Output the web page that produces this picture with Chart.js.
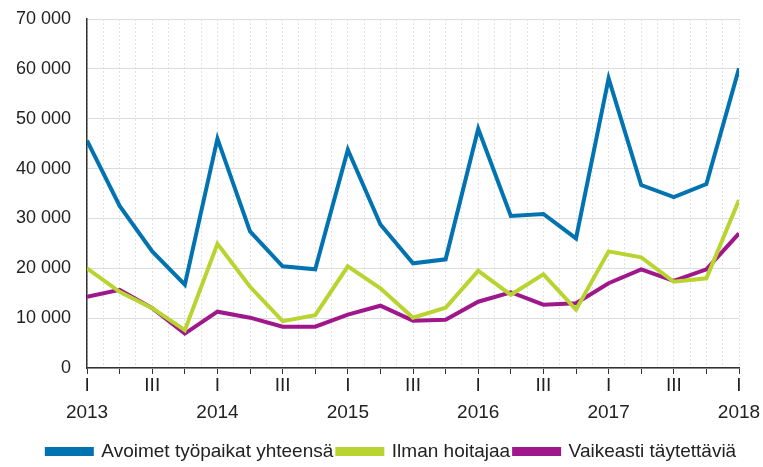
<!DOCTYPE html>
<html>
<head>
<meta charset="utf-8">
<script src="https://cdn.jsdelivr.net/npm/chart.js@4/dist/chart.umd.min.js"></script>
<style>
    html, body { margin: 0; padding: 0; background: #fff; }
    #wrap { width: 763px; height: 467px; }
</style>
</head>
<body>
<div id="wrap"><canvas id="chart"></canvas></div>
<script>
// Neljännekset 2013 I - 2018 I
const years = [2013, 2014, 2015, 2016, 2017, 2018];
const quarterNames = ['I', '', 'III', ''];

const avoimet = [45600, 32500, 23400, 16700, 46000, 27400, 20400, 19800, 43800, 28800,
    21000, 21800, 48000, 30500, 30900, 26000, 58100, 36700, 34300, 36900, 60100];
const ilmanHoitajaa = [20000, 15300, 12000, 7600, 24900, 16300, 9400, 10600, 20400, 16000,
    10100, 12100, 19500, 14700, 18800, 11700, 23400, 22200, 17300, 18000, 33700];
const vaikeasti = [14300, 15700, 12000, 6900, 11300, 10100, 8300, 8300, 10700, 12500,
    9500, 9700, 13300, 15200, 12700, 13000, 17000, 19800, 17500, 19800, 27000];

Chart.defaults.font.family = '"Liberation Sans", Arial, sans-serif';
Chart.defaults.font.size = 19;
Chart.defaults.color = '#222';

function toPoints(arr) {
    return arr.map(function (v, i) { return { x: i, y: v }; });
}

function number_format(n) {
    return String(n).replace(/\B(?=(\d{3})+(?!\d))/g, ' ');
}

// selite hieman oikealle ja alemmas kuten mallissa
const legendShift = {
    id: 'legendShift',
    afterLayout: function (chart) {
        chart.legend.left += 10;
        chart.legend.right += 10;
        chart.legend.top += 4;
        chart.legend.bottom += 4;
    }
};

const ctx = document.getElementById('chart').getContext('2d');
new Chart(ctx, {
    type: 'line',
    data: {
        datasets: [{
            label: 'Avoimet työpaikat yhteensä',
            data: toPoints(avoimet),
            borderColor: '#0073b0',
            backgroundColor: '#0073b0'
        }, {
            label: 'Ilman hoitajaa',
            data: toPoints(ilmanHoitajaa),
            borderColor: '#b9d431',
            backgroundColor: '#b9d431'
        }, {
            label: 'Vaikeasti täytettäviä',
            data: toPoints(vaikeasti),
            borderColor: '#a0178c',
            backgroundColor: '#a0178c'
        }]
    },
    plugins: [legendShift],
    options: {
        responsive: true,
        maintainAspectRatio: false,
        animation: false,
        elements: {
            line: { borderWidth: 4, tension: 0, borderCapStyle: 'butt', borderJoinStyle: 'miter' },
            point: { radius: 0 }
        },
        layout: {
            padding: { left: 0, right: 0, top: 0, bottom: 0 }
        },
        scales: {
            x: {
                type: 'linear',
                min: 0,
                max: avoimet.length - 1,
                afterFit: function (scale) {
                    scale.paddingRight = 24;
                    scale.height += 10;
                },
                grid: {
                    color: '#e2e2e2',
                    lineWidth: 1,
                    tickLength: 6,
                    tickColor: function (c) {
                        return Number.isInteger(c.tick.value) ? '#333' : 'rgba(0,0,0,0)';
                    }
                },
                border: { color: '#333', width: 1.5, dash: [2, 2] },
                ticks: {
                    stepSize: 0.5,
                    autoSkip: false,
                    maxRotation: 0,
                    padding: -2,
                    font: { lineHeight: 1.42 },
                    callback: function (value) {
                        if (!Number.isInteger(value)) return '';
                        const q = value % 4;
                        if (q === 0) return ['I', String(years[value / 4])];
                        if (q === 2) return [quarterNames[q], ''];
                        return '';
                    }
                }
            },
            y: {
                min: 0,
                max: 70000,
                afterFit: function (scale) {
                    // ylin nimiö mahtuu, ei ylimääräistä tyhjää
                    scale.paddingTop = 19;
                },
                grid: {
                    color: '#dcdcdc',
                    lineWidth: 1,
                    drawTicks: false
                },
                border: { color: '#333', width: 1.5 },
                ticks: {
                    stepSize: 10000,
                    padding: 16,
                    font: { size: 18 },
                    callback: function (value) {
                        return number_format(value);
                    }
                }
            }
        },
        plugins: {
            legend: {
                position: 'bottom',
                labels: {
                    boxWidth: 45,
                    boxHeight: 5,
                    padding: 4,
                    color: '#222'
                }
            },
            tooltip: { enabled: false }
        }
    }
});
</script>
</body>
</html>
